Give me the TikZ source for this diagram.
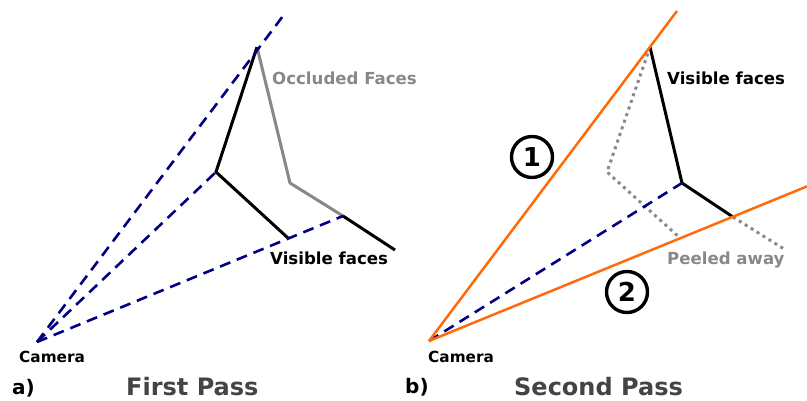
\documentclass[tikz,border=0pt]{standalone}
\usepackage{fontspec}
\setmainfont{DejaVu Sans}
\definecolor{navyb}{HTML}{000080}
\definecolor{occ}{HTML}{888888}
\definecolor{org}{HTML}{FF6A0A}
\definecolor{ttl}{HTML}{444444}
\begin{document}
\begin{tikzpicture}[x=1pt,y=-1pt,
  ray/.style={navyb,line width=2.6pt,dash pattern=on 11pt off 7pt},
  face/.style={black,line width=3pt,line join=miter},
  occface/.style={occ,line width=3pt},
  peel/.style={occ,line width=3pt,dash pattern=on 3pt off 4pt},
  cone/.style={org,line width=2.5pt},
  lbl/.style={font=\bfseries\fontsize{16.6}{19}\selectfont,inner sep=0pt,anchor=base west},
  cam/.style={font=\bfseries\fontsize{15.3}{17}\selectfont,inner sep=0pt,anchor=base west},
  tag/.style={font=\bfseries\fontsize{20}{24}\selectfont,inner sep=0pt,anchor=base west},
  pass/.style={font=\bfseries\fontsize{24}{28}\selectfont,text=ttl,inner sep=0pt,anchor=base west},
  num/.style={circle,draw=black,line width=3.4pt,minimum size=41pt,inner sep=0pt,font=\bfseries\fontsize{26}{30}\selectfont}]
\useasboundingbox (0,0) rectangle (807,401);
% ---------- panel a ----------
\coordinate (ca) at (37,342);
\coordinate (ra) at (286,12);
\coordinate (pa) at (257,47);
\coordinate (qa) at (216,172);
\coordinate (sa) at (288,238);
\coordinate (ga) at (290,183);
\coordinate (ha) at (343,216);
\coordinate (ea) at (395,250);
\draw[occface] (pa) -- (ga) -- (ha);
\draw[face] (pa) -- (qa) -- (sa);
\draw[face] (ha) -- (ea);
\draw[ray] (ca) -- (ra);
\draw[ray] (ca) -- (qa);
\draw[ray] (ca) -- (ha);
\node[lbl,text=occ] (occl) at (272,85) {Occluded Faces};
\node[lbl] (visa) at (270,265) {Visible faces};
\node[cam] (cama) at (19,362) {Camera};
\node[tag] (ta) at (12,394) {a)};
\node[pass] (fp) at (126,395) {First Pass};
% ---------- panel b ----------
\coordinate (cb) at (429,341);
\coordinate (o1) at (677,11);
\coordinate (o2) at (808,186);
\coordinate (pb) at (650,47);
\coordinate (qb) at (682,183);
\coordinate (sb) at (733,217);
\coordinate (gb) at (607,172);
\coordinate (hb) at (680,238);
\coordinate (eb) at (784,249);
\draw[peel] (pb) -- (gb) -- (hb);
\draw[peel] (sb) -- (eb);
\draw[face] (pb) -- (qb) -- (sb);
\draw[ray] (cb) -- (qb);
\draw[cone] (cb) -- (o1);
\draw[cone] (cb) -- (o2);
\node[num] (n1) at (532,157) {1};
\node[num] (n2) at (627,292) {2};
\node[lbl] (visb) at (667,85) {Visible faces};
\node[lbl,text=occ] (peeled) at (667,265) {Peeled away};
\node[cam] (camb) at (428,362) {Camera};
\node[tag] (tb) at (405,393) {b)};
\node[pass] (sp) at (514,395) {Second Pass};
\end{tikzpicture}
\end{document}
